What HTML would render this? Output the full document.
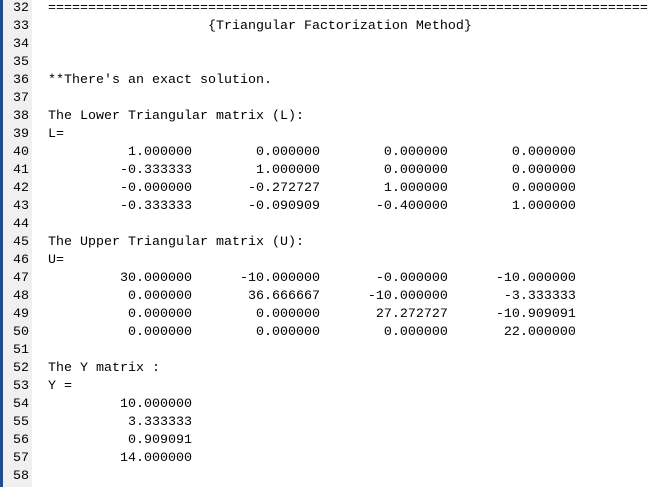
<!DOCTYPE html>
<html><head><meta charset="utf-8"><style>
html,body{margin:0;padding:0;width:648px;height:487px;overflow:hidden;background:#fff}
#ed{position:absolute;left:0;top:0;width:648px;height:487px}
#bar{position:absolute;left:0;top:0;width:3px;height:487px;background:#1f4e8c}
#gut{position:absolute;left:3px;top:0;width:29px;height:487px;background:#f0f0f0}
.ln{position:absolute;left:3px;width:26px;text-align:right;font:13.33px "Liberation Mono",monospace;line-height:18px;color:#000}
.tx{position:absolute;left:48px;white-space:pre;font:13.33px "Liberation Mono",monospace;line-height:18px;color:#000}
</style></head><body>
<div id="ed">
<div id="bar"></div>
<div id="gut"></div>
</div>
<script>
const lines=[
"===========================================================================",
"                    {Triangular Factorization Method}",
"","",
"**There's an exact solution.",
"",
"The Lower Triangular matrix (L):",
"L=",
"          1.000000        0.000000        0.000000        0.000000",
"         -0.333333        1.000000        0.000000        0.000000",
"         -0.000000       -0.272727        1.000000        0.000000",
"         -0.333333       -0.090909       -0.400000        1.000000",
"",
"The Upper Triangular matrix (U):",
"U=",
"         30.000000      -10.000000       -0.000000      -10.000000",
"          0.000000       36.666667      -10.000000       -3.333333",
"          0.000000        0.000000       27.272727      -10.909091",
"          0.000000        0.000000        0.000000       22.000000",
"",
"The Y matrix :",
"Y =",
"         10.000000",
"          3.333333",
"          0.909091",
"         14.000000",
""];
const ed=document.getElementById('ed');
lines.forEach((t,i)=>{
  const y=i*18;
  const n=document.createElement('div');
  n.className='ln';n.style.top=y+'px';n.textContent=32+i;
  
  
  ed.appendChild(n);
  const d=document.createElement('div');
  d.className='tx';d.style.top=y+'px';d.textContent=t;
  
  
  ed.appendChild(d);
});
</script>
</body></html>
